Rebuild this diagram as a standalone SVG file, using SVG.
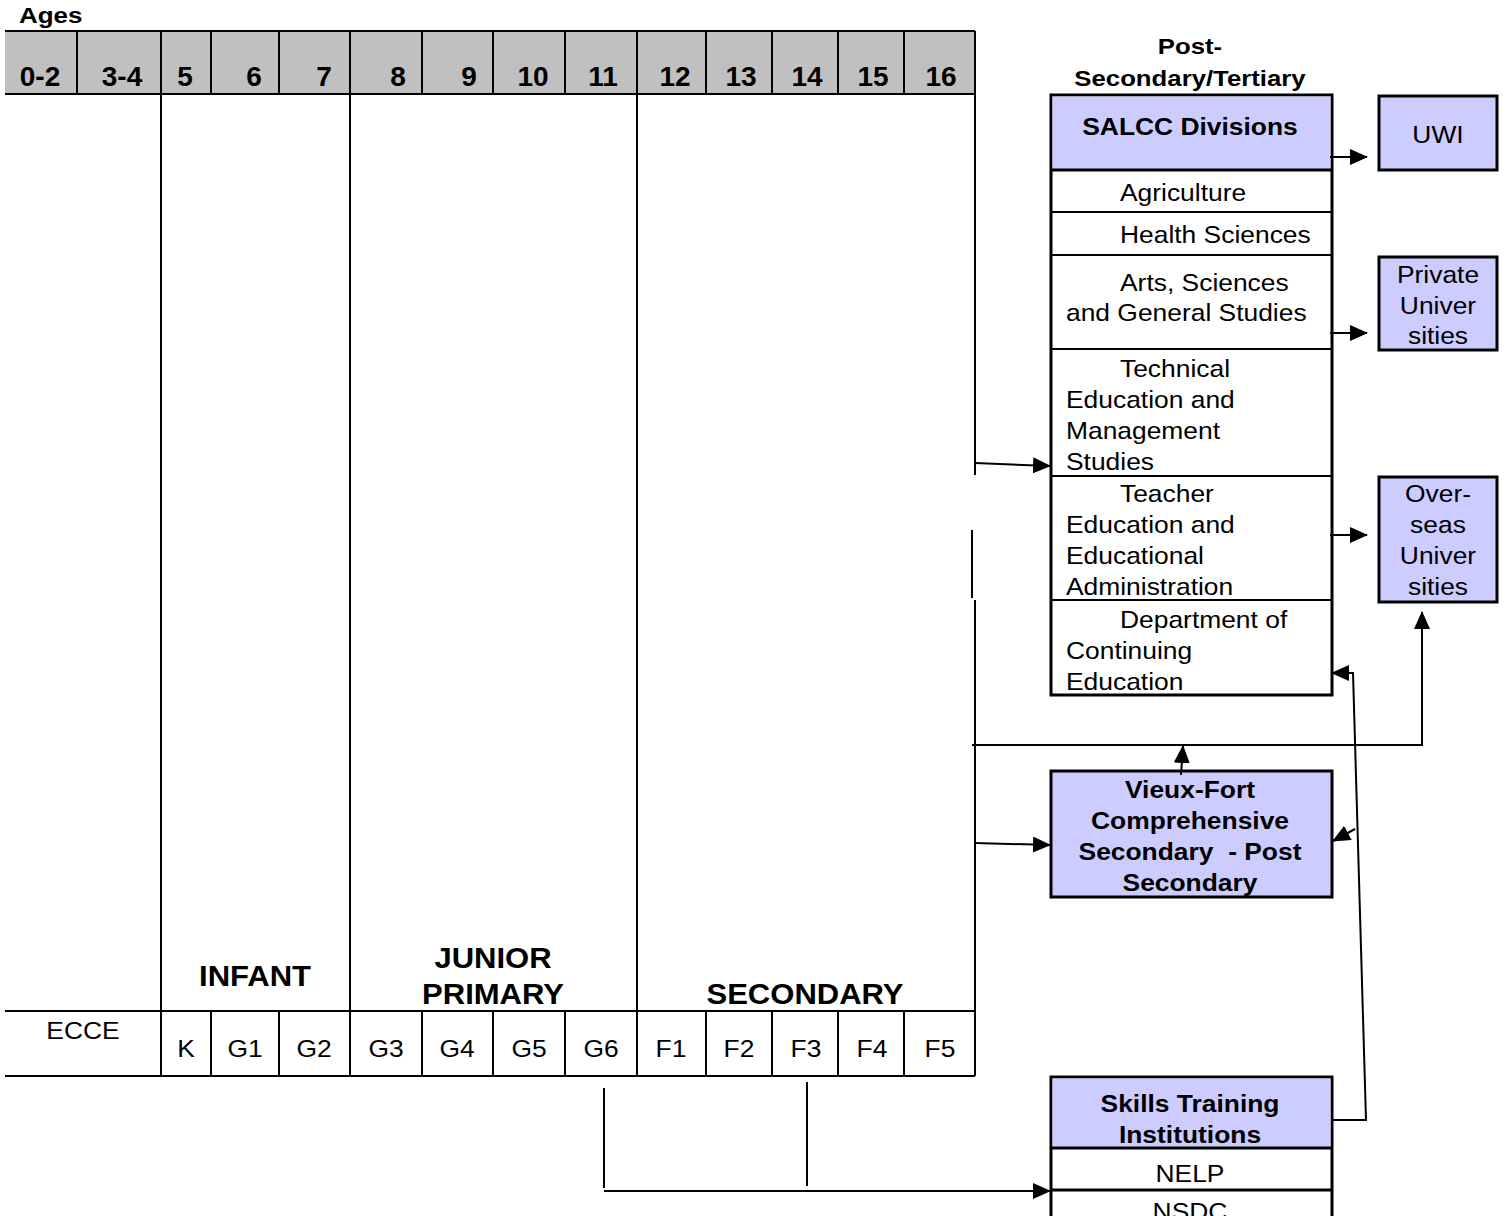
<svg xmlns="http://www.w3.org/2000/svg" width="1507" height="1216" viewBox="0 0 1507 1216">
<style>
text{font-family:"Liberation Sans",Arial,sans-serif;font-size:24px;fill:#000}
.b{font-weight:bold}
.m{text-anchor:middle}
.age{font-weight:bold;font-size:28px;text-anchor:middle}
.big{font-weight:bold;font-size:29px;text-anchor:middle}
.ln{stroke:#000;stroke-width:2;fill:none}
.bx{stroke:#000;stroke-width:3;fill:#fff}
.pu{fill:#ccccff}
.cn{stroke:#000;stroke-width:2;fill:none}
</style>
<defs>
<marker id="ah" markerWidth="18" markerHeight="16" refX="17" refY="8" orient="auto" markerUnits="userSpaceOnUse"><path d="M0,0 L18,8 L0,16 z" fill="#000"/></marker>
</defs>

<g id="ages-header">
<text class="b" transform="translate(19 23) scale(1.18 1)" style="font-size:22px">Ages</text>
<rect x="5" y="31" width="970" height="63" fill="#c0c0c0"/>
<path class="ln" d="M5,31 H975 M5,94 H975 M77,31 V94 M161,31 V94 M211,31 V94 M279,31 V94 M350,31 V94 M422,31 V94 M493,31 V94 M565,31 V94 M637,31 V94 M706,31 V94 M772,31 V94 M838,31 V94 M904,31 V94 M975,31 V94"/>
<text class="age" x="40" y="86">0-2</text>
<text class="age" x="122" y="86">3-4</text>
<text class="age" x="185" y="86">5</text>
<text class="age" x="254" y="86">6</text>
<text class="age" x="324" y="86">7</text>
<text class="age" x="398" y="86">8</text>
<text class="age" x="469" y="86">9</text>
<text class="age" x="533" y="86">10</text>
<text class="age" x="603" y="86">11</text>
<text class="age" x="675" y="86">12</text>
<text class="age" x="741" y="86">13</text>
<text class="age" x="807" y="86">14</text>
<text class="age" x="873" y="86">15</text>
<text class="age" x="941" y="86">16</text>
</g>

<g id="levels">
<path class="ln" d="M161,94 V1076 M350,94 V1076 M637,94 V1076 M975,94 V475 M972,530 V598 M975,600 V1076"/>
<text class="big" transform="translate(255 986) scale(1.07 1)">INFANT</text>
<text class="big" transform="translate(493 968) scale(1.07 1)">JUNIOR</text>
<text class="big" transform="translate(493 1004) scale(1.07 1)">PRIMARY</text>
<text class="big" transform="translate(805 1004) scale(1.07 1)">SECONDARY</text>
</g>

<g id="grades">
<path class="ln" d="M5,1011 H975 M5,1076 H975 M211,1011 V1076 M279,1011 V1076 M422,1011 V1076 M493,1011 V1076 M565,1011 V1076 M706,1011 V1076 M772,1011 V1076 M838,1011 V1076 M904,1011 V1076"/>
<text class="m" transform="translate(83 1039) scale(1.1 1)">ECCE</text>
<text class="m" transform="translate(186 1057) scale(1.1 1)">K</text>
<text class="m" transform="translate(245 1057) scale(1.1 1)">G1</text>
<text class="m" transform="translate(314 1057) scale(1.1 1)">G2</text>
<text class="m" transform="translate(386 1057) scale(1.1 1)">G3</text>
<text class="m" transform="translate(457 1057) scale(1.1 1)">G4</text>
<text class="m" transform="translate(529 1057) scale(1.1 1)">G5</text>
<text class="m" transform="translate(601 1057) scale(1.1 1)">G6</text>
<text class="m" transform="translate(671 1057) scale(1.1 1)">F1</text>
<text class="m" transform="translate(739 1057) scale(1.1 1)">F2</text>
<text class="m" transform="translate(806 1057) scale(1.1 1)">F3</text>
<text class="m" transform="translate(872 1057) scale(1.1 1)">F4</text>
<text class="m" transform="translate(940 1057) scale(1.1 1)">F5</text>
</g>

<g id="post-secondary-title">
<text class="b m" transform="translate(1190 54) scale(1.12 1)" style="font-size:23px">Post-</text>
<text class="b m" transform="translate(1190 86) scale(1.12 1)" style="font-size:23px">Secondary/Tertiary</text>
</g>

<g id="salcc">
<rect class="bx" x="1051" y="95" width="281" height="600"/>
<rect class="pu" x="1052.5" y="96.5" width="278" height="73.5"/>
<path class="ln" d="M1051,170 H1332" style="stroke-width:3"/>
<path class="ln" d="M1051,212 H1332 M1051,255 H1332 M1051,349 H1332 M1051,476 H1332 M1051,600 H1332"/>
<text class="b m" transform="translate(1190 135) scale(1.1 1)">SALCC Divisions</text>
<text transform="translate(1120 201) scale(1.1 1)">Agriculture</text>
<text transform="translate(1120 243) scale(1.1 1)">Health Sciences</text>
<text transform="translate(1120 291) scale(1.1 1)">Arts, Sciences</text>
<text transform="translate(1066 321) scale(1.1 1)">and General Studies</text>
<text transform="translate(1120 377) scale(1.1 1)">Technical</text>
<text transform="translate(1066 408) scale(1.1 1)">Education and</text>
<text transform="translate(1066 439) scale(1.1 1)">Management</text>
<text transform="translate(1066 470) scale(1.1 1)">Studies</text>
<text transform="translate(1120 502) scale(1.1 1)">Teacher</text>
<text transform="translate(1066 533) scale(1.1 1)">Education and</text>
<text transform="translate(1066 564) scale(1.1 1)">Educational</text>
<text transform="translate(1066 595) scale(1.1 1)">Administration</text>
<text transform="translate(1120 628) scale(1.1 1)">Department of</text>
<text transform="translate(1066 659) scale(1.1 1)">Continuing</text>
<text transform="translate(1066 690) scale(1.1 1)">Education</text>
</g>

<g id="uwi">
<rect class="bx pu" x="1379" y="96" width="118" height="74"/>
<text class="m" transform="translate(1438 143) scale(1.1 1)">UWI</text>
</g>

<g id="private-universities">
<rect class="bx pu" x="1379" y="257" width="118" height="93"/>
<text class="m" transform="translate(1438 283) scale(1.1 1)">Private</text>
<text class="m" transform="translate(1438 314) scale(1.1 1)">Univer</text>
<text class="m" transform="translate(1438 344) scale(1.1 1)">sities</text>
</g>

<g id="overseas-universities">
<rect class="bx pu" x="1379" y="477" width="118" height="125"/>
<text class="m" transform="translate(1438 502) scale(1.1 1)">Over-</text>
<text class="m" transform="translate(1438 533) scale(1.1 1)">seas</text>
<text class="m" transform="translate(1438 564) scale(1.1 1)">Univer</text>
<text class="m" transform="translate(1438 595) scale(1.1 1)">sities</text>
</g>

<g id="vieux-fort">
<rect class="bx pu" x="1051" y="771" width="281" height="126"/>
<text class="b m" transform="translate(1190 798) scale(1.1 1)">Vieux-Fort</text>
<text class="b m" transform="translate(1190 829) scale(1.1 1)">Comprehensive</text>
<text class="b m" transform="translate(1190 860) scale(1.1 1)">Secondary&#160; - Post</text>
<text class="b m" transform="translate(1190 891) scale(1.1 1)">Secondary</text>
</g>

<g id="skills-training">
<rect class="bx" x="1051" y="1077" width="281" height="160"/>
<rect class="pu" x="1052.5" y="1078.5" width="278" height="69.5"/>
<path class="ln" d="M1051,1148 H1332 M1051,1190 H1332" style="stroke-width:3"/>
<text class="b m" transform="translate(1190 1112) scale(1.1 1)">Skills Training</text>
<text class="b m" transform="translate(1190 1143) scale(1.1 1)">Institutions</text>
<text class="m" transform="translate(1190 1182) scale(1.1 1)">NELP</text>
<text class="m" transform="translate(1190 1220) scale(1.1 1)">NSDC</text>
</g>

<g id="connectors">
<path class="cn" d="M975,463 L1050,466" marker-end="url(#ah)"/>
<path class="cn" d="M975,843 L1050,845" marker-end="url(#ah)"/>
<path class="cn" d="M972,745 H1422 V612" marker-end="url(#ah)"/>
<path class="cn" d="M1181,775 L1183,746" marker-end="url(#ah)"/>
<path class="cn" d="M1330,157 H1367" marker-end="url(#ah)"/>
<path class="cn" d="M1330,333 H1367" marker-end="url(#ah)"/>
<path class="cn" d="M1330,535 H1367" marker-end="url(#ah)"/>
<path class="cn" d="M1332,1120 H1366 L1353,673 H1332" marker-end="url(#ah)"/>
<path class="cn" d="M1355,829 L1333,841" marker-end="url(#ah)"/>
<path class="cn" d="M604,1088 V1188 M807,1082 V1186"/>
<path class="cn" d="M604,1191 H1050" marker-end="url(#ah)"/>
</g>
</svg>
